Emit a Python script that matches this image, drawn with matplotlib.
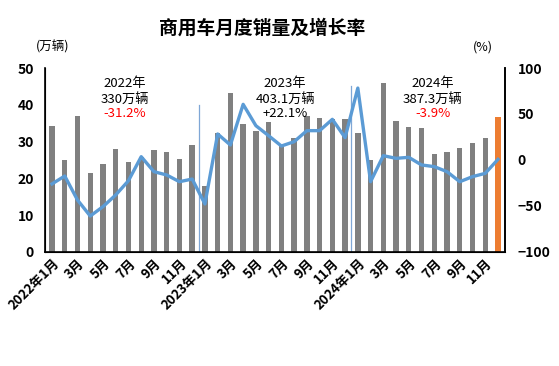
import matplotlib
matplotlib.use("Agg")
import matplotlib.pyplot as plt
import numpy as np

plt.rcParams['font.family'] = ['Noto Sans CJK SC', 'DejaVu Sans']

# monthly sales (10k units), 2022-01 .. 2024-12
sales = [34.3, 25.0, 37.0, 21.6, 23.9, 28.0, 24.5, 25.8, 27.7, 27.3, 25.3, 29.1,
         17.9, 32.4, 43.3, 34.8, 33.0, 35.4, 28.7, 31.0, 37.0, 36.3, 36.2, 36.1,
         32.3, 25.0, 45.8, 35.7, 33.9, 33.6, 26.6, 27.1, 28.3, 29.6, 31.0, 36.8]
# year-on-year growth (%)
growth = [-26.0, -17.4, -43.5, -60.9, -50.7, -38.0, -22.5, 3.6, -12.7, -16.3, -23.6, -20.7,
          -47.8, 28.3, 16.3, 60.5, 37.3, 26.4, 15.2, 19.9, 31.9, 31.9, 44.2, 24.3,
          78.2, -23.6, 4.7, 1.8, 2.9, -5.4, -7.2, -12.7, -23.6, -18.1, -14.5, 0.7]

tick_labels = ['2022年1月', '3月', '5月', '7月', '9月', '11月',
               '2023年1月', '3月', '5月', '7月', '9月', '11月',
               '2024年1月', '3月', '5月', '7月', '9月', '11月']

year_notes = [('2022年', '330万辆', '-31.2%'),
              ('2023年', '403.1万辆', '+22.1%'),
              ('2024年', '387.3万辆', '-3.9%')]
note_colors = ['#FF0000', 'black', '#FF0000']
note_x = [5.7, 18.3, 29.9]

x = np.arange(len(sales))
colors = ['#808080'] * (len(sales) - 1) + ['#ED7D31']

fig = plt.figure(figsize=(5.59, 3.66), dpi=100)
ax = fig.add_axes([0.0805, 0.3115, 0.8229, 0.5027])
ax.bar(x, sales, width=0.42, color=colors, zorder=2)
ax.set_xlim(-0.55, 35.55)
ax.set_ylim(0, 50)
ax.set_yticks([0, 10, 20, 30, 40, 50])
ax.tick_params(axis='y', length=0, labelsize=10, pad=8)
ax.tick_params(axis='x', length=0, pad=3)
for t in ax.get_yticklabels():
    t.set_fontweight('bold')
ax.set_xticks(x[::2])
ax.set_xticklabels(tick_labels, rotation=45, ha='right', rotation_mode='anchor',
                   fontsize=9.5, fontweight='bold')
ax.spines['top'].set_visible(False)
for s in ['left', 'bottom', 'right']:
    ax.spines[s].set_linewidth(1.2)
    ax.spines[s].set_color('black')

# year separators
ax.plot([11.5, 11.5], [0, 40], color='#7FA7D6', lw=0.9, zorder=1)
ax.plot([23.5, 23.5], [0, 45], color='#7FA7D6', lw=0.9, zorder=1)

ax2 = ax.twinx()
ax2.plot(x, growth, color='#5B9BD5', lw=2.4, zorder=3)
ax2.set_ylim(-100, 100)
ax2.set_yticks([-100, -50, 0, 50, 100])
ax2.tick_params(axis='y', length=0, labelsize=10, pad=9)
for t in ax2.get_yticklabels():
    t.set_fontweight('bold')
ax2.spines['top'].set_visible(False)
ax2.spines['right'].set_linewidth(1.2)

for (yr, tot, pct), nx, c in zip(year_notes, note_x, note_colors):
    ax.text(nx, 45.8, yr, ha='center', va='center', fontsize=9.5)
    ax.text(nx, 41.5, tot, ha='center', va='center', fontsize=9.5)
    ax.text(nx, 37.5, pct, ha='center', va='center', fontsize=9.5, color=c)

fig.text(0.469, 0.923, '商用车月度销量及增长率', ha='center', va='center',
         fontsize=13.5, fontweight='bold')
fig.text(0.094, 0.872, '(万辆)', ha='center', va='center', fontsize=9)
fig.text(0.864, 0.872, '(%)', ha='center', va='center', fontsize=9)

fig.savefig('out.png', dpi=100)
